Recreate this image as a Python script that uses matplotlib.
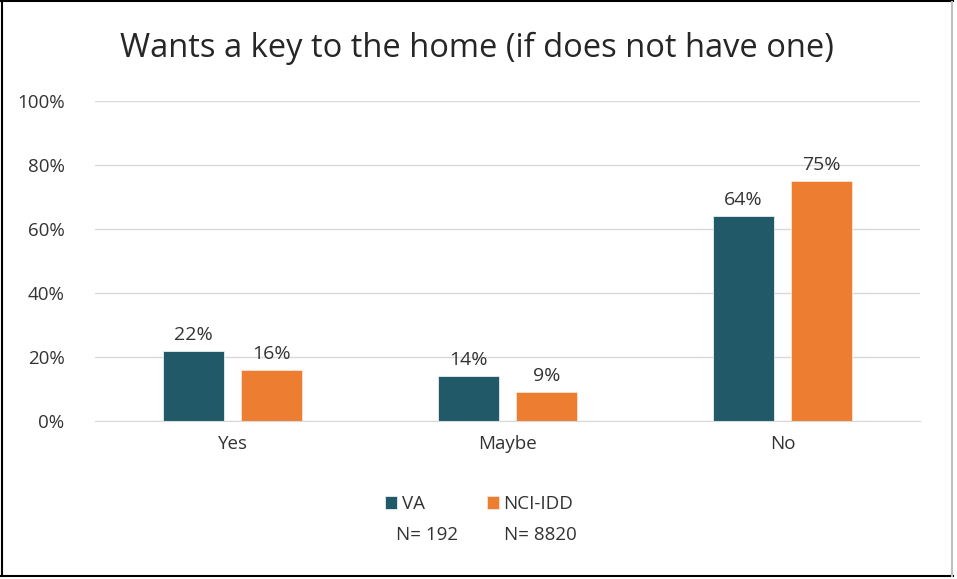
import matplotlib.pyplot as plt
import numpy as np
from matplotlib.lines import Line2D

categories = ['Yes', 'Maybe', 'No']
va = [22, 14, 64]
nci = [16, 9, 75]
series_names = ['VA', 'NCI-IDD']
series_n = ['N= 192', 'N= 8820']
yticks = [0, 20, 40, 60, 80, 100]

plt.rcParams['font.family'] = ['Open Sans', 'DejaVu Sans']

fig = plt.figure(figsize=(9.57, 5.79), dpi=100)
W, H = 957, 579
ax = fig.add_axes([95 / W, 1 - 421 / H, (920 - 95) / W, (421 - 101) / H])

x = np.arange(len(categories))
w = 0.225
off = 0.142
b1 = ax.bar(x - off, va, w, color='#215968', edgecolor='#e8eef0', linewidth=0.6, label=series_names[0])
b2 = ax.bar(x + off, nci, w, color='#ED7D31', edgecolor='#fbe3d3', linewidth=0.6, label=series_names[1])
for bars in (b1, b2):
    ax.bar_label(bars, labels=[f'{v}%' for v in bars.datavalues], padding=5, fontsize=14, color='#333333')

ax.set_xlim(-0.5, 2.5)
ax.set_ylim(0, 100)
ax.set_yticks(yticks)
ax.set_yticklabels([f'{t}%' for t in yticks])
ax.yaxis.grid(True, color='#d9d9d9', linewidth=1)
ax.set_axisbelow(True)
ax.set_xticks(x)
ax.set_xticklabels(categories)
ax.tick_params(axis='both', length=0, labelsize=13.5, colors='#333333')
ax.tick_params(axis='y', pad=22)
ax.tick_params(axis='x', pad=10)
for s in ['top', 'right', 'left']:
    ax.spines[s].set_visible(False)
ax.spines['bottom'].set_color('#d9d9d9')

fig.text(477 / W, 1 - 48 / H, 'Wants a key to the home (if does not have one)',
         ha='center', va='center', fontsize=23.5, color='#262626')

leg = fig.legend(handles=[b1, b2], loc='center left', bbox_to_anchor=(368 / W, 1 - 504 / H),
                 ncol=2, frameon=False, fontsize=13.5, handlelength=0.65, handleheight=0.65,
                 handletextpad=0.25, columnspacing=3.3)
for t in leg.get_texts():
    t.set_color('#333333')
fig.text(396 / W, 1 - 535 / H, series_n[0], ha='left', va='center', fontsize=13.5, color='#333333')
fig.text(504 / W, 1 - 535 / H, series_n[1], ha='left', va='center', fontsize=13.5, color='#333333')

# outer frame
fig.add_artist(Line2D([1 / W, 953 / W], [1 - 1 / H, 1 - 1 / H], transform=fig.transFigure, color='black', lw=1.5))
fig.add_artist(Line2D([1.5 / W, 1.5 / W], [1 - 1 / H, 1 - 576 / H], transform=fig.transFigure, color='black', lw=1.5))
fig.add_artist(Line2D([1 / W, 953 / W], [1 - 576 / H, 1 - 576 / H], transform=fig.transFigure, color='black', lw=1.5))
fig.add_artist(Line2D([952 / W, 952 / W], [1 - 2 / H, 1 - 576 / H], transform=fig.transFigure, color='#bfbfbf', lw=1.5))

fig.savefig('out.png', dpi=100)
